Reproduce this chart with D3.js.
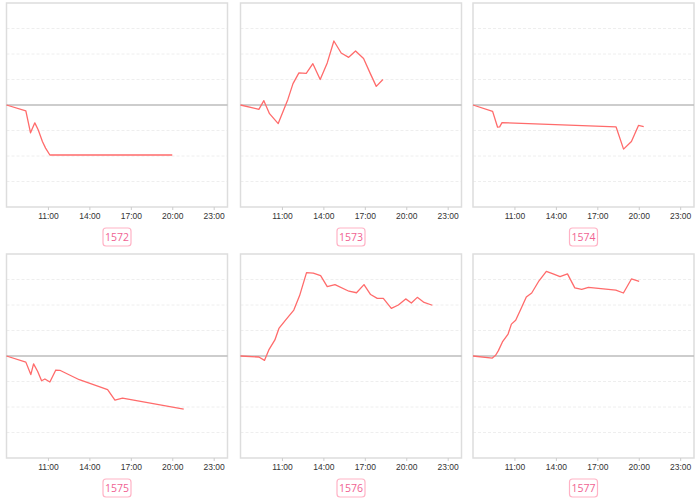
<!DOCTYPE html>
<html><head><meta charset="utf-8">
<script src="https://cdn.jsdelivr.net/npm/d3@7"></script>
<style>
html,body{margin:0;padding:0;background:#fff;}
svg{display:block;font-family:"Open Sans","DejaVu Sans",sans-serif;}
</style></head>
<body><svg id="c" width="700" height="502"></svg>
<script>
const panelIds = ["1572","1573","1574","1575","1576","1577"];
const xTickHours = [11,14,17,20,23];
const xTickLabels = ["11:00","14:00","17:00","20:00","23:00"];
const yTicks = [-4,-3,-2,-1,0,1,2,3,4];

const hours1572 = [8,9.4,9.74,10.05,10.3,10.6,10.83,11.14,20.0];
const values1572 = [0,-0.23,-1.09,-0.7,-0.98,-1.43,-1.69,-1.96,-1.96];

const hours1573 = [8,9.33,9.69,10.1,10.73,11.43,11.8,12.23,12.76,13.24,13.77,14.28,14.76,15.29,15.83,16.33,16.91,17.4,17.83,18.31];
const values1573 = [0,-0.17,0.17,-0.34,-0.73,0.22,0.84,1.26,1.24,1.62,1.0,1.65,2.51,2.04,1.87,2.12,1.82,1.23,0.73,1.0];

const hours1574 = [8,9.42,9.78,9.93,10.1,18.36,18.9,19.47,19.98,20.36];
const values1574 = [0,-0.25,-0.87,-0.86,-0.69,-0.86,-1.73,-1.43,-0.8,-0.85];

const hours1575 = [8,9.4,9.76,9.96,10.25,10.54,10.78,11.14,11.57,11.86,13.27,15.32,15.85,16.4,20.83];
const values1575 = [0,-0.24,-0.73,-0.31,-0.6,-0.97,-0.9,-1.02,-0.55,-0.56,-0.93,-1.32,-1.73,-1.65,-2.08];

const hours1576 = [8,9.33,9.74,10.05,10.49,10.78,11.26,11.86,12.28,12.78,13.27,13.8,14.28,14.84,15.85,16.4,16.94,17.42,17.9,18.34,18.92,19.43,19.96,20.37,20.8,21.29,21.89];
const values1576 = [0,-0.04,-0.17,0.24,0.63,1.08,1.41,1.8,2.37,3.27,3.25,3.15,2.72,2.8,2.54,2.48,2.8,2.41,2.26,2.26,1.87,2.0,2.24,2.08,2.3,2.1,1.99];

const hours1577 = [8,9.4,9.64,9.84,10.13,10.54,10.78,11.09,11.45,11.86,12.25,12.78,13.31,13.8,14.3,14.84,15.37,15.87,16.36,18.34,18.89,19.47,20.03];
const values1577 = [0,-0.08,0.03,0.21,0.55,0.86,1.25,1.4,1.82,2.31,2.47,2.95,3.32,3.22,3.11,3.22,2.67,2.61,2.69,2.58,2.47,3.02,2.93];

const seriesHours = [hours1572,hours1573,hours1574,hours1575,hours1576,hours1577];
const seriesValues = [values1572,values1573,values1574,values1575,values1576,values1577];

const svg = d3.select("#c");
const colLefts = [6.5, 240.5, 473];
const rowTops = [3, 254];
const pw = 221, ph = 204;

panelIds.forEach((id, i) => {
  const col = i % 3, row = Math.floor(i / 3);
  const g = svg.append("g").attr("transform", `translate(${colLefts[col]},${rowTops[row]})`);
  const x = d3.scaleLinear().domain([8, 24]).range([0, pw]);
  const y = d3.scaleLinear().domain([-4, 4]).range([ph, 0]);

  // gridlines
  g.selectAll("line.grid").data(yTicks.filter(v => v !== 0 && Math.abs(v) !== 4)).enter()
    .append("line").attr("class","grid")
    .attr("x1", 0).attr("x2", pw).attr("y1", d => y(d)).attr("y2", d => y(d))
    .attr("stroke", "#eeeeee").attr("stroke-width", 1).attr("stroke-dasharray","3,2");

  // border
  g.append("rect").attr("x",0).attr("y",0).attr("width",pw).attr("height",ph)
    .attr("fill","none").attr("stroke","#dddddd").attr("stroke-width",1.5);

  // baseline
  g.append("line").attr("x1",0).attr("x2",pw).attr("y1",y(0)).attr("y2",y(0))
    .attr("stroke","#bdbdbd").attr("stroke-width",1.5);

  // x axis
  const ax = g.append("g").attr("transform",`translate(0,${ph})`)
    .call(d3.axisBottom(x).tickValues(xTickHours).tickFormat((d,k)=>xTickLabels[k]).tickSize(3).tickPadding(3));
  ax.select(".domain").remove();
  ax.selectAll(".tick line").attr("stroke","#cccccc");
  ax.selectAll(".tick text").attr("fill","#333").attr("font-size","8.5px");

  // line
  const data = seriesHours[i].map((h, k) => [h, seriesValues[i][k]]);
  g.append("path").datum(data)
    .attr("d", d3.line().x(d => x(d[0])).y(d => y(d[1])))
    .attr("fill","none").attr("stroke","#ff6b6b").attr("stroke-width",1.3)
    .attr("stroke-linejoin","round");

  // label box
  const cx = pw/2;
  const lb = g.append("g").attr("transform",`translate(${cx},${ph+30})`);
  lb.append("rect").attr("x",-14).attr("y",-9).attr("width",28).attr("height",18).attr("rx",3)
    .attr("fill","#fff").attr("stroke","#ffb3c6").attr("stroke-width",1.2);
  lb.append("text").attr("text-anchor","middle").attr("dy","0.35em")
    .attr("fill","#f06292").attr("font-size","10.5px").text(id);
});
</script></body></html>
